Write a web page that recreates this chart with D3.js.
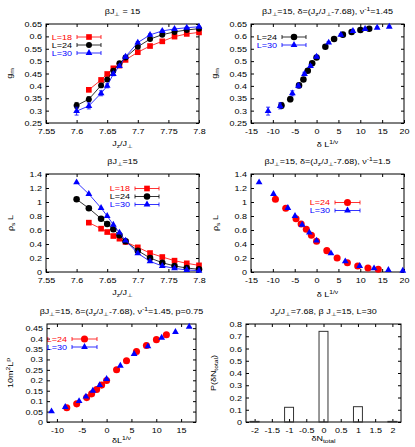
<!DOCTYPE html>
<html>
<head>
<meta charset="utf-8">
<script src="https://cdn.jsdelivr.net/npm/d3@7"></script>
<style>
  body { margin: 0; background: #fff; }
</style>
</head>
<body>
<div id="container"></div>
<script>
// ---- data ----
const jz18 = [7.62, 7.64, 7.65, 7.66, 7.67, 7.68, 7.70, 7.72, 7.74, 7.76, 7.78, 7.80];
const jz   = [7.60, 7.62, 7.64, 7.65, 7.66, 7.67, 7.68, 7.70, 7.72, 7.74, 7.76, 7.78, 7.80];

const gm18 = [0.384, 0.424, 0.448, 0.471, 0.482, 0.505, 0.536, 0.561, 0.580, 0.599, 0.610, 0.616];
const gm24 = [0.321, 0.346, 0.402, 0.426, 0.461, 0.491, 0.515, 0.558, 0.589, 0.607, 0.618, 0.626, 0.631];
const gm30 = [0.298, 0.319, 0.370, 0.400, 0.448, 0.480, 0.518, 0.575, 0.606, 0.622, 0.630, 0.635, 0.639];
const gmErr18 = [0.006, 0.005, 0.005, 0.004, 0.004, 0.004, 0.004, 0.003, 0.003, 0.003, 0.003, 0.003];
const gmErr24 = [0.012, 0.010, 0.008, 0.007, 0.006, 0.005, 0.005, 0.004, 0.004, 0.003, 0.003, 0.003, 0.003];
const gmErr30 = [0.016, 0.012, 0.010, 0.008, 0.007, 0.006, 0.005, 0.004, 0.004, 0.003, 0.003, 0.003, 0.003];

const rho18 = [0.705, 0.619, 0.571, 0.514, 0.476, 0.429, 0.352, 0.271, 0.214, 0.162, 0.124, 0.095];
const rho24 = [1.038, 0.910, 0.762, 0.686, 0.610, 0.524, 0.438, 0.305, 0.200, 0.133, 0.086, 0.057, 0.038];
const rho30 = [1.281, 1.114, 0.914, 0.800, 0.676, 0.562, 0.448, 0.267, 0.152, 0.086, 0.052, 0.029, 0.019];

// scaled variable delta*L^(1/nu), nu^-1 = 1.45
const sx24 = [-8.02, -6.02, -4.01, -3.01, -2.01, -1.00, 0, 2.01, 4.01, 6.02, 8.02, 10.03, 12.04];
const sx30 = [-11.09, -8.32, -5.54, -4.16, -2.77, -1.39, 0, 2.77, 5.54, 8.32, 11.09, 13.86, 16.63];
// nu^-1 = 1.5
const rx24 = [-9.41, -7.05, -4.70, -3.53, -2.35, -1.18, 0, 2.35, 4.70, 7.05, 9.41, 11.76, 14.11];
const rx30 = [-13.15, -9.86, -6.57, -4.93, -3.29, -1.64, 0, 3.29, 6.57, 9.86, 13.15, 16.43, 19.72];

const m2_24 = [0.068, 0.087, 0.117, 0.135, 0.156, 0.177, 0.199, 0.251, 0.294, 0.338, 0.367, 0.395, 0.418];
const m2_30 = [0.051, 0.072, 0.100, 0.122, 0.150, 0.177, 0.206, 0.270, 0.326, 0.363, 0.404, 0.432, 0.457];

const dN  = [-2, -1, 0, 1, 2];
const pdN = [0.005, 0.12, 0.74, 0.125, 0.005];

// tick labels
const jTicks   = [7.55, 7.6, 7.65, 7.7, 7.75, 7.8];
const gmTicks  = [0.25, 0.3, 0.35, 0.4, 0.45, 0.5, 0.55, 0.6, 0.65];
const sTicks   = [-15, -10, -5, 0, 5, 10, 15, 20];
const rhoTicks = [0, 0.2, 0.4, 0.6, 0.8, 1, 1.2, 1.4];
const mxTicks  = [-10, -5, 0, 5, 10, 15];
const myTicks  = [0, 0.05, 0.1, 0.15, 0.2, 0.25, 0.3, 0.35, 0.4, 0.45];
const dnTicks  = [-2, -1.5, -1, -0.5, 0, 0.5, 1, 1.5, 2];
const pTicks   = [0, 0.1, 0.2, 0.3, 0.4, 0.5, 0.6, 0.7, 0.8];

// ---- drawing ----
const SY = 0.75;   // glyphs in the figure are squat
const FS = 9;
const RED = "#ff0000", BLUE = "#0000ff", BLACK = "#000000";

const svg = d3.select("#container").append("svg")
  .attr("width", 415).attr("height", 447)
  .style("font-family", "'Liberation Sans', Arial, Helvetica, sans-serif");

function rich(t, s) {
  const re = /([_^])\{([^}]*)\}/g;
  let last = 0, m, shift = 0;
  const add = (str, lvl) => {
    const target = lvl == 0 ? 0 : (lvl > 0 ? 2.5 : -3.5);
    const ts = t.append("tspan").attr("dy", target - shift).text(str);
    if (lvl != 0) ts.attr("font-size", "0.75em");
    shift = target;
  };
  while ((m = re.exec(s))) {
    if (m.index > last) add(s.slice(last, m.index), 0);
    add(m[2], m[1] == "_" ? 1 : -1);
    last = re.lastIndex;
  }
  if (last < s.length) add(s.slice(last), 0);
}

function label(g, x, y, s, o = {}) {
  const t = g.append("g")
    .attr("transform", `translate(${x},${y}) rotate(${o.rot || 0}) scale(1,${SY})`)
    .append("text")
    .attr("text-anchor", o.anchor || "middle")
    .attr("font-size", o.size || FS)
    .attr("fill", o.fill || "#000");
  rich(t, s);
}

const fmt = d => String(+d.toFixed(2));

function panel(p) {
  const [x0, x1, y0, y1] = p.box;
  const g = svg.append("g");
  const x = d3.scaleLinear().domain(p.xd).range([x0, x1]);
  const y = d3.scaleLinear().domain(p.yd).range([y1, y0]);

  const ax = (axis, tr) => {
    const a = g.append("g").attr("transform", tr).call(axis);
    a.select(".domain").remove();
    a.attr("font-family", null).attr("font-size", FS);
    a.selectAll("line").attr("stroke", "#000");
    return a;
  };
  const bx = ax(d3.axisBottom(x).tickValues(p.xt).tickSizeInner(-3).tickSizeOuter(0).tickFormat(fmt), `translate(0,${y1})`);
  bx.selectAll("text").attr("y", 0).attr("dy", null).attr("fill", "#000")
    .attr("transform", `translate(0,11) scale(1,${SY})`);
  ax(d3.axisTop(x).tickValues(p.xt).tickSizeInner(-3).tickSizeOuter(0).tickFormat(""), `translate(0,${y0})`);
  const ly = ax(d3.axisLeft(y).tickValues(p.yt).tickSizeInner(-3).tickSizeOuter(0).tickFormat(fmt), `translate(${x0},0)`);
  ly.selectAll("text").attr("x", 0).attr("dy", null).attr("fill", "#000")
    .attr("transform", `translate(-4,2.5) scale(1,${SY})`);
  ax(d3.axisRight(y).tickValues(p.yt).tickSizeInner(-3).tickSizeOuter(0).tickFormat(""), `translate(${x1},0)`);

  g.append("rect").attr("x", x0).attr("y", y0).attr("width", x1 - x0).attr("height", y1 - y0)
    .attr("fill", "none").attr("stroke", "#000").attr("stroke-width", 1);

  label(g, (x0 + x1) / 2, y0 - 10, p.title);
  label(g, (x0 + x1) / 2, p.xly, p.xlabel);
  label(g, p.ylx, (y0 + y1) / 2, p.ylabel, { rot: -90 });
  return { g, x, y };
}

const SHAPES = { square: d3.symbolSquare, circle: d3.symbolCircle, triangle: d3.symbolTriangle };
const SIZES = { square: 32, circle: 28, triangle: 20 };

function marker(g, cx, cy, shape, color, scale) {
  g.append("path")
    .attr("transform", `translate(${cx},${cy})`)
    .attr("d", d3.symbol().type(SHAPES[shape]).size(SIZES[shape] * (scale || 1))())
    .attr("fill", color);
}

function series(c, xs, ys, o) {
  const pts = d3.zip(xs, ys);
  if (o.line) {
    c.g.append("path").datum(pts)
      .attr("d", d3.line().x(d => c.x(d[0])).y(d => c.y(d[1])))
      .attr("fill", "none").attr("stroke", o.color).attr("stroke-width", 0.8);
  }
  if (o.err) {
    const eg = c.g.append("g").attr("stroke", o.color).attr("stroke-width", 0.8);
    pts.forEach((d, i) => {
      const px = c.x(d[0]), ya = c.y(d[1] - o.err[i]), yb = c.y(d[1] + o.err[i]);
      eg.append("line").attr("x1", px).attr("x2", px).attr("y1", ya).attr("y2", yb);
      eg.append("line").attr("x1", px - 2).attr("x2", px + 2).attr("y1", ya).attr("y2", ya);
      eg.append("line").attr("x1", px - 2).attr("x2", px + 2).attr("y1", yb).attr("y2", yb);
    });
  }
  pts.forEach(d => marker(c.g, c.x(d[0]), c.y(d[1]), o.shape, o.color, o.scale));
}

function legend(c, items, o) {
  items.forEach((it, i) => {
    const yy = o.y + i * o.dy;
    label(c.g, o.tx, yy + 2.5, it.name, { anchor: "end", fill: it.color });
    const lg = c.g.append("g").attr("stroke", it.color).attr("stroke-width", 0.8);
    lg.append("line").attr("x1", o.l0).attr("x2", o.l1).attr("y1", yy).attr("y2", yy);
    lg.append("line").attr("x1", o.l0).attr("x2", o.l0).attr("y1", yy - 2).attr("y2", yy + 2);
    lg.append("line").attr("x1", o.l1).attr("x2", o.l1).attr("y1", yy - 2).attr("y2", yy + 2);
    marker(c.g, (o.l0 + o.l1) / 2, yy, it.shape, it.color, it.scale);
  });
}

// panel 1: g_m vs Jz/J
const p1 = panel({ box: [46, 199, 24, 123], xd: [7.55, 7.8], yd: [0.25, 0.65], xt: jTicks, yt: gmTicks,
  title: "βJ_{⊥} = 15", xlabel: "J_{z}/J_{⊥}", xly: 146, ylabel: "g_{m}", ylx: 12 });
series(p1, jz18, gm18, { color: RED, shape: "square", line: true, err: gmErr18 });
series(p1, jz, gm24, { color: BLACK, shape: "circle", line: true, err: gmErr24 });
series(p1, jz, gm30, { color: BLUE, shape: "triangle", line: true, err: gmErr30 });
legend(p1, [{ name: "L=18", color: RED, shape: "square" },
            { name: "L=24", color: BLACK, shape: "circle" },
            { name: "L=30", color: BLUE, shape: "triangle" }],
  { tx: 72, y: 37, dy: 8, l0: 77, l1: 101 });

// panel 2: g_m scaling
const p2 = panel({ box: [251, 404, 24, 123], xd: [-15, 20], yd: [0.25, 0.65], xt: sTicks, yt: gmTicks,
  title: "βJ_{⊥}=15, δ=(J_{z}/J_{⊥}-7.68), ν^{-1}=1.45", xlabel: "δ L^{1/ν}", xly: 147, ylabel: "g_{m}", ylx: 217 });
series(p2, sx24, gm24, { color: BLACK, shape: "circle", err: gmErr24, scale: 1.2 });
series(p2, sx30, gm30, { color: BLUE, shape: "triangle", err: gmErr30 });
legend(p2, [{ name: "L=24", color: BLACK, shape: "circle", scale: 1.2 },
            { name: "L=30", color: BLUE, shape: "triangle" }],
  { tx: 277, y: 37, dy: 8, l0: 282, l1: 306 });

// panel 3: rho_s L vs Jz/J
const p3 = panel({ box: [46, 199, 174, 272], xd: [7.55, 7.8], yd: [0, 1.4], xt: jTicks, yt: rhoTicks,
  title: "βJ_{⊥}=15", xlabel: "J_{z}/J_{⊥}", xly: 295, ylabel: "ρ_{s} L", ylx: 13 });
series(p3, jz18, rho18, { color: RED, shape: "square", line: true });
series(p3, jz, rho24, { color: BLACK, shape: "circle", line: true, scale: 1.2 });
series(p3, jz, rho30, { color: BLUE, shape: "triangle", line: true });
legend(p3, [{ name: "L=18", color: RED, shape: "square" },
            { name: "L=24", color: BLACK, shape: "circle", scale: 1.2 },
            { name: "L=30", color: BLUE, shape: "triangle" }],
  { tx: 130, y: 188.5, dy: 8, l0: 135, l1: 159 });

// panel 4: rho_s L scaling
const p4 = panel({ box: [251, 404, 174, 272], xd: [-15, 20], yd: [0, 1.4], xt: sTicks, yt: rhoTicks,
  title: "βJ_{⊥}=15, δ=(J_{z}/J_{⊥}-7.68), ν^{-1}=1.5", xlabel: "δ L^{1/ν}", xly: 297, ylabel: "ρ_{s} L", ylx: 218 });
series(p4, rx24, rho24, { color: RED, shape: "circle", scale: 1.4 });
series(p4, rx30, rho30, { color: BLUE, shape: "triangle" });
legend(p4, [{ name: "L=24", color: RED, shape: "circle", scale: 1.4 },
            { name: "L=30", color: BLUE, shape: "triangle" }],
  { tx: 330, y: 202.5, dy: 8, l0: 335, l1: 360 });

// panel 5: 10 m^2 L^p scaling
const p5 = panel({ box: [47, 196, 324, 422], xd: [-12, 18], yd: [0, 0.47], xt: mxTicks, yt: myTicks,
  title: "βJ_{⊥}=15, δ=(J_{z}/J_{⊥}-7.68), ν^{-1}=1.45, p=0.75", xlabel: "δL^{1/ν}", xly: 443, ylabel: "10m^{2}L^{p}", ylx: 13 });
series(p5, sx24, m2_24, { color: RED, shape: "circle", scale: 1.4 });
series(p5, sx30, m2_30, { color: BLUE, shape: "triangle" });
legend(p5, [{ name: "L=24", color: RED, shape: "circle", scale: 1.4 },
            { name: "L=30", color: BLUE, shape: "triangle" }],
  { tx: 67, y: 339, dy: 8, l0: 72, l1: 97 });

// panel 6: histogram of delta N_total
const p6 = panel({ box: [246, 401, 324, 422], xd: [-2.25, 2.25], yd: [0, 0.8], xt: dnTicks, yt: pTicks,
  title: "J_{z}/J_{⊥}=7.68, β J_{⊥}=15, L=30", xlabel: "δN_{total}", xly: 441, ylabel: "P(δN_{total})", ylx: 216 });
const barW = 0.26;
p6.g.selectAll(".bar").data(d3.zip(dN, pdN)).join("rect")
  .attr("class", "bar")
  .attr("x", d => p6.x(d[0] - barW / 2))
  .attr("width", d => p6.x(d[0] + barW / 2) - p6.x(d[0] - barW / 2))
  .attr("y", d => p6.y(d[1]))
  .attr("height", d => p6.y(0) - p6.y(d[1]))
  .attr("fill", "none").attr("stroke", "#333").attr("stroke-width", 1);
</script>
</body>
</html>
